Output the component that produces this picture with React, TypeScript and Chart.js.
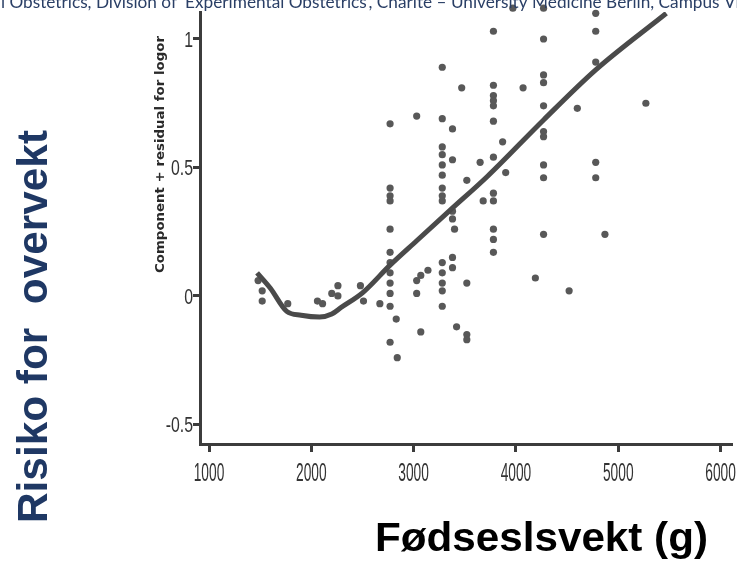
import React, { useEffect, useRef } from 'react';
import { Chart, registerables } from 'chart.js';
Chart.register(...registerables);

// Scatter points: birth weight (g) vs component + residual
const birthWeight = [
  1480, 1520, 1520, 1770, 2060, 2110, 2200, 2260, 2260, 2480, 2510, 2670,
  2770, 2770, 2770, 2770, 2770, 2770, 2770, 2770, 2770, 2770, 2770, 2770,
  2830, 2840, 3030, 3030, 3030, 3070, 3070, 3140,
  3280, 3280, 3280, 3280, 3280, 3280, 3280, 3280, 3280, 3280, 3280, 3280, 3280, 3280,
  3380, 3380, 3380, 3380, 3380, 3380, 3400, 3420, 3470, 3520, 3520, 3520, 3520, 3650, 3680,
  3780, 3780, 3780, 3780, 3780, 3780, 3780, 3780, 3780, 3780, 3780, 3780,
  3870, 3900, 3970, 4070, 4190,
  4270, 4270, 4270, 4270, 4270, 4270, 4270, 4270, 4270, 4270,
  4520, 4600, 4780, 4780, 4780, 4780, 4780, 4870, 5270,
];
const residual = [
  0.06, 0.02, -0.02, -0.03, -0.02, -0.03, 0.01, 0.04, 0.0, 0.04, -0.02, -0.03,
  0.67, 0.42, 0.39, 0.37, 0.26, 0.17, 0.13, 0.09, 0.05, 0.01, -0.04, -0.18,
  -0.09, -0.24, 0.7, 0.06, 0.01, 0.08, -0.14, 0.1,
  0.89, 0.69, 0.58, 0.55, 0.51, 0.47, 0.42, 0.39, 0.37, 0.13, 0.09, 0.05, 0.02, -0.04,
  0.65, 0.53, 0.33, 0.3, 0.15, 0.11, 0.26, -0.12, 0.81, 0.45, 0.05, -0.15, -0.17, 0.52, 0.37,
  1.03, 0.82, 0.78, 0.76, 0.74, 0.68, 0.54, 0.4, 0.37, 0.26, 0.22, 0.17,
  0.6, 0.48, 1.12, 0.81, 0.07,
  1.12, 1.0, 0.86, 0.83, 0.74, 0.64, 0.62, 0.51, 0.46, 0.24,
  0.02, 0.73, 1.1, 1.03, 0.91, 0.52, 0.46, 0.24, 0.75,
];

// Smoothed curve
const curveX = [1470, 1600, 1760, 1900, 2080, 2200, 2290, 2500, 2770, 3030, 3360, 3720, 4270, 4780, 5470];
const curveY = [0.09, 0.03, -0.06, -0.075, -0.082, -0.07, -0.045, 0.012, 0.12, 0.215, 0.335, 0.465, 0.685, 0.88, 1.1];

const xTicks = [1000, 2000, 3000, 4000, 5000, 6000];
const yTicks = [-0.5, 0, 0.5, 1];
const yTickLabels = ['-0.5', '0', '0.5', '1'];

const headerText = 'l Obstetrics, Division of ’Experimental Obstetrics’, Charité – University Medicine Berlin, Campus Vir';
const innerYTitle = 'Component + residual for logor';
const outerYTitle = 'Risiko for  overvekt';
const outerXTitle = 'Fødseslsvekt (g)';

function drawScaled(ctx: CanvasRenderingContext2D, text: string, x: number, y: number, sx: number, align: CanvasTextAlign) {
  ctx.save();
  ctx.translate(x, y);
  ctx.scale(sx, 1);
  ctx.textAlign = align;
  ctx.textBaseline = 'alphabetic';
  ctx.fillText(text, 0, 0);
  ctx.restore();
}

function drawFitted(ctx: CanvasRenderingContext2D, text: string, x: number, y: number, targetW: number, font: string, color: string, rot: number) {
  ctx.save();
  ctx.font = font;
  ctx.fillStyle = color;
  const w = ctx.measureText(text).width;
  ctx.translate(x, y);
  ctx.rotate(rot);
  ctx.scale(targetW / w, 1);
  ctx.textAlign = 'left';
  ctx.textBaseline = 'alphabetic';
  ctx.fillText(text, 0, 0);
  ctx.restore();
}

const textPlugin = {
  id: 'textPlugin',
  beforeDraw(chart: any) {
    const ctx = chart.ctx;
    ctx.save();
    ctx.fillStyle = '#ffffff';
    ctx.fillRect(0, 0, chart.width, chart.height);
    ctx.restore();
  },
  afterDraw(chart: any) {
    const ctx: CanvasRenderingContext2D = chart.ctx;
    const xs = chart.scales.x;
    const ys = chart.scales.y;
    ctx.save();
    ctx.fillStyle = '#333333';
    ctx.font = '25px "Liberation Sans", Arial, sans-serif';
    xTicks.forEach((v) => {
      drawScaled(ctx, String(v), xs.getPixelForValue(v), 481, 0.55, 'center');
    });
    ctx.font = '22px "Liberation Sans", Arial, sans-serif';
    yTicks.forEach((v, i) => {
      drawScaled(ctx, yTickLabels[i], 193, ys.getPixelForValue(v) + 8, 0.72, 'right');
    });
    ctx.restore();

    // inner y title (rotated)
    drawFitted(ctx, innerYTitle, 164, 273, 237, 'bold 13px "DejaVu Sans", sans-serif', '#2a2a2a', -Math.PI / 2);
    // outer y title
    drawFitted(ctx, outerYTitle, 47, 523, 393, 'bold 42px "Liberation Sans", Arial, sans-serif', '#1f3864', -Math.PI / 2);
    // outer x title
    drawFitted(ctx, outerXTitle, 375, 551, 333, 'bold 41px "Liberation Sans", Arial, sans-serif', '#000000', 0);
    // header (cut off at top)
    drawFitted(ctx, headerText, 1, 8, 745, '18px Lato, "Open Sans", sans-serif', '#2a3f66', 0);
  },
};

export default function App() {
  const ref = useRef<HTMLCanvasElement>(null);
  useEffect(() => {
    if (!ref.current) return;
    const axisColor = '#3c3c3c';
    const chart = new Chart(ref.current, {
      type: 'scatter',
      data: {
        datasets: [
          {
            label: 'curve',
            data: curveX.map((x, i) => ({ x, y: curveY[i] })),
            showLine: true,
            borderColor: '#4a4a4a',
            borderWidth: 5,
            pointRadius: 0,
            tension: 0.4,
            cubicInterpolationMode: 'monotone',
            fill: false,
            order: 0,
          } as any,
          {
            label: 'points',
            data: birthWeight.map((x, i) => ({ x, y: residual[i] })),
            backgroundColor: '#585858',
            borderWidth: 0,
            pointRadius: 3.6,
            clip: 10,
            order: 1,
          } as any,
        ],
      },
      options: {
        responsive: false,
        animation: false,
        devicePixelRatio: 1,
        layout: { padding: { left: 0, top: 12, right: 5, bottom: 0 } },
        plugins: { legend: { display: false }, tooltip: { enabled: false } },
        scales: {
          x: {
            type: 'linear',
            min: 912,
            max: 6112,
            afterBuildTicks: (scale: any) => {
              scale.ticks = xTicks.map((v) => ({ value: v }));
            },
            afterFit: (scale: any) => {
              scale.height = 121;
            },
            ticks: { display: false },
            grid: { display: true, drawOnChartArea: false, drawTicks: true, tickLength: 8, tickWidth: 3, tickColor: axisColor },
            border: { display: true, color: axisColor, width: 3 },
          },
          y: {
            type: 'linear',
            min: -0.576,
            max: 1.105,
            afterBuildTicks: (scale: any) => {
              scale.ticks = yTicks.map((v) => ({ value: v }));
            },
            afterFit: (scale: any) => {
              scale.width = 200;
            },
            ticks: { display: false },
            grid: { display: true, drawOnChartArea: false, drawTicks: true, tickLength: 7, tickWidth: 3, tickColor: axisColor },
            border: { display: true, color: axisColor, width: 3 },
          },
        },
      } as any,
      plugins: [textPlugin],
    });
    return () => chart.destroy();
  }, []);
  return (
    <div style={{ position: 'fixed', left: 0, top: 0, width: 737, height: 565, background: '#ffffff' }}>
      <canvas ref={ref} width={737} height={565} style={{ display: 'block', width: 737, height: 565 }} />
    </div>
  );
}
